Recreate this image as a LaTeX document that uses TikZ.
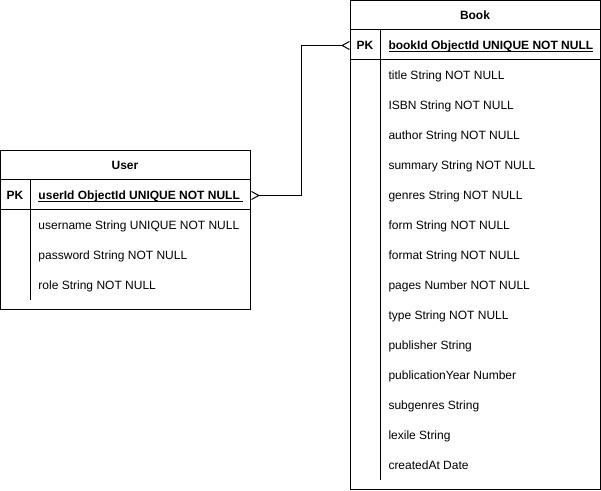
\documentclass[tikz,border=0pt]{standalone}
\usepackage{fontspec}
\setmainfont{Liberation Sans}
\usetikzlibrary{arrows.meta}
\newcommand\keyline[1]{\setbox0\hbox{#1}\rlap{\rule[-1.3pt]{\wd0}{0.75pt}}\box0}

\begin{document}
\begin{tikzpicture}[x=0.75pt, y=-0.75pt, line width=0.75pt,
  field/.style={anchor=west, inner sep=0pt, text height=8pt, text depth=0.5pt, font=\fontsize{9}{11}\selectfont},
  head/.style={inner sep=0pt, text height=8pt, text depth=0.5pt, font=\bfseries\fontsize{9}{11}\selectfont},
  pkrow/.style={anchor=north west, inner sep=0pt, minimum width=187.5pt, minimum height=22.5pt},
  crow/.tip={Straight Barb[reversed, length=5.5pt, width=6pt, line width=0.75pt]}]
  \useasboundingbox (0,0) rectangle (601,491);

  % User
  \draw (0.5,150.5) rectangle (250,310);
  \draw (0.5,180) -- (250,180);
  \draw (0.5,210) -- (250,210);
  \draw (30,180) -- (30,300);
  \node[pkrow] (userpk) at (0,180) {};
  \node[head] (usertitle) at (125,165) {User};
  \node[head] (userkey) at (15,195) {PK};
  \node[field, font=\bfseries\fontsize{9}{11}\selectfont] (u0) at (38,195) {\keyline{userId ObjectId UNIQUE NOT NULL\ }};
  \node[field] (u1) at (38,225) {username String UNIQUE NOT NULL};
  \node[field] (u2) at (38,255) {password String NOT NULL};
  \node[field] (u3) at (38,285) {role String NOT NULL};

  % Book
  \draw (350,0.5) rectangle (600,490);
  \draw (350,30) -- (600,30);
  \draw (350,60) -- (600,60);
  \draw (380,30) -- (380,480);
  \node[pkrow] (bookpk) at (350,30) {};
  \node[head] (booktitle) at (475,15) {Book};
  \node[head] (bookkey) at (365,45) {PK};
  \node[field, font=\bfseries\fontsize{9}{11}\selectfont] (b0) at (388,45) {\keyline{bookId ObjectId UNIQUE NOT NULL}};
  \node[field] (b1) at (388,75) {title String NOT NULL};
  \node[field] (b2) at (388,105) {ISBN String NOT NULL};
  \node[field] (b3) at (388,135) {author String NOT NULL};
  \node[field] (b4) at (388,165) {summary String NOT NULL};
  \node[field] (b5) at (388,195) {genres String NOT NULL};
  \node[field] (b6) at (388,225) {form String NOT NULL};
  \node[field] (b7) at (388,255) {format String NOT NULL};
  \node[field] (b8) at (388,285) {pages Number NOT NULL};
  \node[field] (b9) at (388,315) {type String NOT NULL};
  \node[field] (b10) at (388,345) {publisher String};
  \node[field] (b11) at (388,375) {publicationYear Number};
  \node[field] (b12) at (388,405) {subgenres String};
  \node[field] (b13) at (388,435) {lexile String};
  \node[field] (b14) at (388,465) {createdAt Date};

  % relation
  \draw[crow-crow] (userpk.east) -- ++(50,0) |- (bookpk.west);
\end{tikzpicture}
\end{document}
